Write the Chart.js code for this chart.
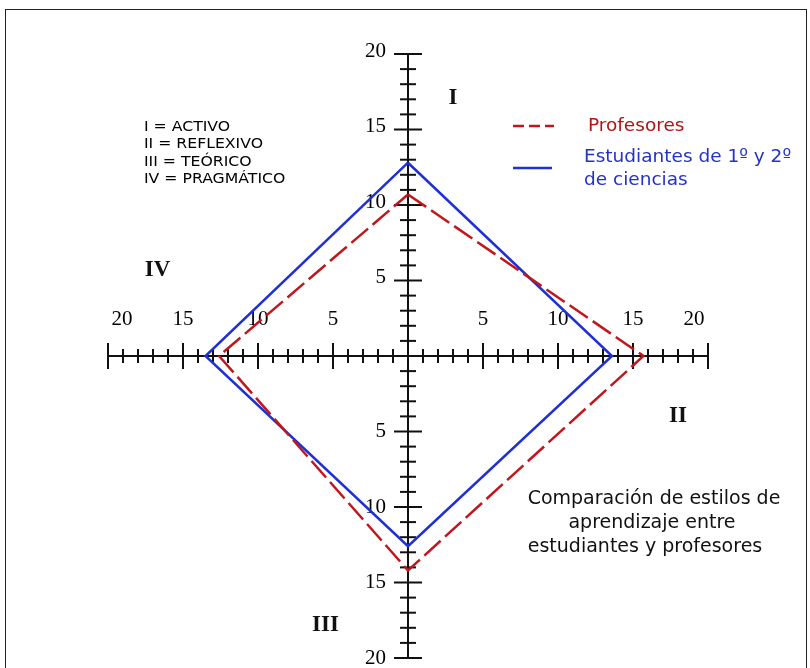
<!DOCTYPE html>
<html>
<head>
<meta charset="utf-8">
<script src="https://cdn.jsdelivr.net/npm/chart.js@4"></script>
<style>
    html, body { margin: 0; padding: 0; background: #fff; overflow: hidden; }
    #wrap { position: relative; width: 810px; height: 668px; }
    #frame { position: absolute; left: 5px; top: 9px; width: 802px; height: 680px; border: 1.5px solid #222; box-sizing: border-box; pointer-events: none; }
</style>
</head>
<body>
<div id="wrap">
    <canvas id="chart" width="810" height="668"></canvas>
    <div id="frame"></div>
</div>
<script>
// axes: I up, II right, III down, IV left
const axisNames = ['I', 'II', 'III', 'IV'];
const styleNames = ['ACTIVO', 'REFLEXIVO', 'TEÓRICO', 'PRAGMÁTICO'];
const profesores = [10.7, 15.7, 14.2, 12.6];
const estudiantes = [12.8, 13.6, 12.6, 13.5];
const tickLabels = [5, 10, 15, 20];
const axisMax = 20;
const caption = ['Comparación de estilos de', 'aprendizaje entre', 'estudiantes y profesores'];

const dirs = [[0, 1], [1, 0], [0, -1], [-1, 0]];
const toPoints = vals => {
    const pts = vals.map((v, i) => ({ x: dirs[i][0] * v, y: dirs[i][1] * v }));
    pts.push(pts[0]);
    return pts;
};

const RED = '#c0161c';
const BLUE = '#1f30d4';

document.addEventListener('DOMContentLoaded', () => {
    const ctx = document.getElementById('chart').getContext('2d');

    const line = (c, x1, y1, x2, y2) => {
        c.beginPath();
        c.moveTo(x1, y1);
        c.lineTo(x2, y2);
        c.stroke();
    };

    const crossAxes = {
        id: 'crossAxes',
        beforeDatasetsDraw(chart) {
            const c = chart.ctx;
            const { x, y } = chart.scales;
            const cx = x.getPixelForValue(0);
            const cy = y.getPixelForValue(0);
            c.save();
            c.strokeStyle = '#111';
            c.lineWidth = 2;
            line(c, x.getPixelForValue(-axisMax), cy, x.getPixelForValue(axisMax), cy);
            line(c, cx, y.getPixelForValue(axisMax), cx, y.getPixelForValue(-axisMax));
            for (let v = -axisMax; v <= axisMax; v++) {
                if (v === 0) continue;
                const major = v % 5 === 0;
                const px = x.getPixelForValue(v);
                const h = major ? 13 : 7;
                line(c, px, cy - h, px, cy + h);
                const py = y.getPixelForValue(v);
                const w = major ? 14 : 8;
                line(c, cx - w, py, cx + w, py);
            }

            // tick numbers
            c.fillStyle = '#000';
            c.font = '21px "Liberation Serif", serif';
            c.textBaseline = 'middle';
            c.textAlign = 'center';
            tickLabels.forEach(t => {
                const shift = t === axisMax ? 14 : 0;
                c.fillText(String(t), x.getPixelForValue(-t) + shift, cy - 37);
                c.fillText(String(t), x.getPixelForValue(t) - shift, cy - 37);
            });
            c.textAlign = 'right';
            tickLabels.forEach(t => {
                c.fillText(String(t), cx - 22, y.getPixelForValue(t) - 3);
                c.fillText(String(t), cx - 22, y.getPixelForValue(-t));
            });
            c.restore();
        },
        afterDraw(chart) {
            const c = chart.ctx;
            const { x, y } = chart.scales;
            c.save();
            c.textBaseline = 'middle';

            // quadrant numerals
            const numeralPos = [[3, 17.1], [18, -4], [-5.5, -17.8], [-16.7, 5.7]];
            c.fillStyle = '#111';
            c.font = 'bold 23px "Liberation Serif", serif';
            c.textAlign = 'center';
            axisNames.forEach((n, i) => {
                c.fillText(n, x.getPixelForValue(numeralPos[i][0]), y.getPixelForValue(numeralPos[i][1]));
            });

            // key of styles (slightly wide lettering)
            c.textAlign = 'left';
            c.font = '14px "DejaVu Sans", sans-serif';
            c.fillStyle = '#000';
            axisNames.forEach((n, i) => {
                c.save();
                c.translate(144, 127 + i * 17.5);
                c.scale(1.12, 1);
                c.fillText(n + ' = ' + styleNames[i], 0, 0);
                c.restore();
            });

            // legend
            c.lineWidth = 2.5;
            c.strokeStyle = RED;
            c.setLineDash([11, 5]);
            line(c, 513, 126, 554, 126);
            c.setLineDash([]);
            c.strokeStyle = BLUE;
            line(c, 513, 168, 552, 168);
            c.font = '18.5px "DejaVu Sans", sans-serif';
            c.fillStyle = '#b01414';
            c.fillText(chart.data.datasets[0].label, 588, 126);
            c.fillStyle = '#2234c4';
            c.fillText('Estudiantes de 1º y 2º', 584, 157);
            c.fillText('de ciencias', 584, 180);

            // caption
            c.fillStyle = '#111';
            c.font = '19px "DejaVu Sans", sans-serif';
            c.textAlign = 'center';
            const captionX = [654, 652, 645];
            caption.forEach((t, i) => {
                c.fillText(t, captionX[i], 499 + i * 24);
            });
            c.restore();
        }
    };

    new Chart(ctx, {
        type: 'scatter',
        data: {
            datasets: [{
                label: 'Profesores',
                data: toPoints(profesores),
                showLine: true,
                borderColor: RED,
                borderWidth: 2.5,
                borderDash: [22, 6],
                pointRadius: 0,
                fill: false,
            }, {
                label: 'Estudiantes de 1º y 2º de ciencias',
                data: toPoints(estudiantes),
                showLine: true,
                borderColor: BLUE,
                borderWidth: 2.5,
                pointRadius: 0,
                fill: false,
            }]
        },
        options: {
            responsive: false,
            animation: false,
            layout: { padding: { left: 108, right: 102, top: 54, bottom: 10 } },
            plugins: { legend: { display: false }, tooltip: { enabled: false } },
            scales: {
                x: { type: 'linear', min: -axisMax, max: axisMax, display: false },
                y: { type: 'linear', min: -axisMax, max: axisMax, display: false }
            }
        },
        plugins: [crossAxes]
    });
});
</script>
</body>
</html>
